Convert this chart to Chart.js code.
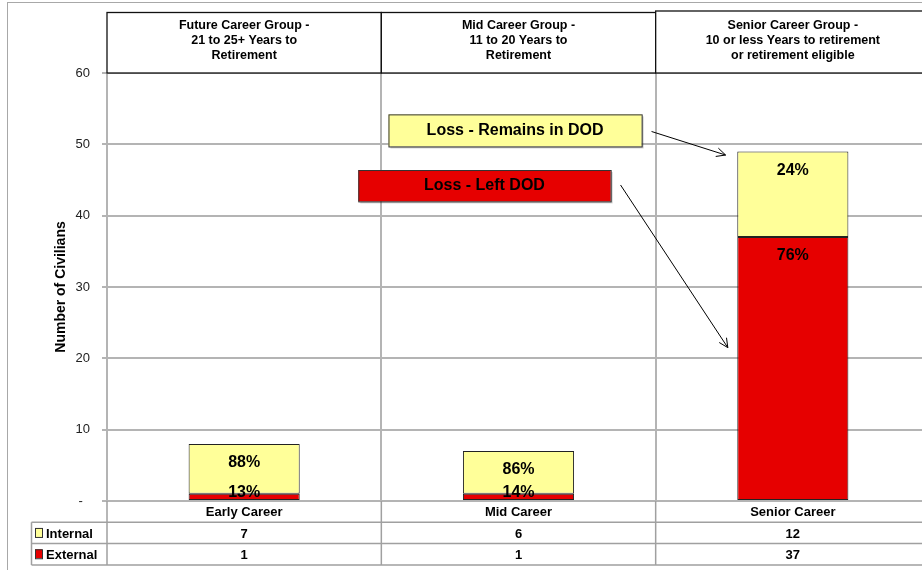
<!DOCTYPE html>
<html>
<head>
<meta charset="utf-8">
<script src="https://cdn.jsdelivr.net/npm/chart.js@4.4.1/dist/chart.umd.min.js"></script>
<style>
  html, body { margin: 0; padding: 0; background: #fff; overflow: hidden; }
  #wrap { width: 922px; height: 570px; position: relative; overflow: hidden; }
</style>
</head>
<body>
<div id="wrap"><canvas id="c" width="930" height="570"></canvas></div>
<script>
// ---- Data ----
const categories = ['Early Career', 'Mid Career', 'Senior Career'];
const internalValues = [7, 6, 12];
const externalValues = [1, 1, 37];
const seriesNames = ['Internal', 'External'];
const groupTitles = [
  ['Future Career Group -', '21 to 25+ Years to', 'Retirement'],
  ['Mid Career Group -', '11 to 20 Years to', 'Retirement'],
  ['Senior Career Group -', '10 or less Years to retirement', 'or retirement eligible']
];
const yTickValues = [0, 10, 20, 30, 40, 50, 60];
const yAxisTitle = 'Number of Civilians';
const calloutTexts = ['Loss - Remains in DOD', 'Loss - Left DOD'];

// ---- Styles ----
const YELLOW = '#FFFF99';
const RED = '#E60000';
const GRID = '#b4b4b4';
const BOLD = "bold 13px 'Liberation Sans Narrow', 'Liberation Sans', Arial, sans-serif";
const BOLD_BIG = "bold 16px 'Liberation Sans', Arial, sans-serif";

function pct(v, i) {
  const t = internalValues[i] + externalValues[i];
  return Math.round(v / t * 100) + '%';
}

const overlay = {
  id: 'overlay',
  beforeDraw(chart) {
    const ctx = chart.ctx;
    ctx.save();
    ctx.strokeStyle = '#a8a8a8';
    ctx.lineWidth = 1;
    ctx.strokeRect(7.5, 2.5, 940, 600);
    ctx.restore();
  },
  afterDatasetsDraw(chart) {
    const ctx = chart.ctx;
    ctx.save();
    ctx.font = BOLD_BIG;
    ctx.fillStyle = '#000';
    ctx.textAlign = 'center';
    ctx.textBaseline = 'middle';
    chart.data.datasets.forEach((ds, di) => {
      const meta = chart.getDatasetMeta(di);
      meta.data.forEach((bar, i) => {
        const top = Math.min(bar.y, bar.base);
        const base = Math.max(bar.y, bar.base);
        const y = Math.min(top + 19, base - 7);
        ctx.fillText(pct(ds.data[i], i), bar.x, y);
      });
    });
    ctx.restore();
  },
  afterDraw(chart) {
    const ctx = chart.ctx;
    const x = chart.scales.x, y = chart.scales.y;
    const area = chart.chartArea;
    const half = (x.getPixelForValue(1) - x.getPixelForValue(0)) / 2;
    const edges = [];
    for (let i = 0; i < categories.length; i++) edges.push(x.getPixelForValue(i) - half);
    edges.push(x.getPixelForValue(categories.length - 1) + half);

    ctx.save();
    // Header boxes
    groupTitles.forEach((lines, i) => {
      const l = edges[i], r = i === categories.length - 1 ? area.right + 20 : edges[i + 1];
      const t = i === categories.length - 1 ? 11 : 12.5;
      ctx.fillStyle = '#fff';
      ctx.fillRect(l, t, r - l, area.top - t);
      ctx.strokeStyle = '#111';
      ctx.lineWidth = 1.3;
      ctx.strokeRect(l, t, r - l, area.top - t);
      ctx.fillStyle = '#000';
      ctx.font = "bold 12.5px 'Liberation Sans Narrow', 'Liberation Sans', Arial, sans-serif";
      ctx.textAlign = 'center';
      ctx.textBaseline = 'middle';
      const cx = x.getPixelForValue(i);
      lines.forEach((s, k) => ctx.fillText(s, cx, 25.5 + k * 15));
    });

    // Data table
    const rowTop = area.bottom, rowH = 21.3;
    const tableLeft = 31.5;
    ctx.strokeStyle = '#a0a0a0';
    ctx.lineWidth = 1.5;
    ctx.beginPath();
    for (let r = 1; r <= 3; r++) {
      const yy = rowTop + r * rowH;
      ctx.moveTo(tableLeft, yy); ctx.lineTo(area.right + 10, yy);
    }
    ctx.moveTo(tableLeft, rowTop + rowH); ctx.lineTo(tableLeft, rowTop + 3 * rowH);
    edges.forEach((e, i) => {
      if (i === edges.length - 1) return;
      ctx.moveTo(e, rowTop); ctx.lineTo(e, rowTop + 3 * rowH);
    });
    ctx.stroke();

    ctx.fillStyle = '#000';
    ctx.font = BOLD;
    ctx.textAlign = 'center';
    ctx.textBaseline = 'middle';
    categories.forEach((c, i) => ctx.fillText(c, x.getPixelForValue(i), rowTop + rowH / 2 + 1));
    const rows = [internalValues, externalValues];
    const cols = [YELLOW, RED];
    rows.forEach((vals, r) => {
      const cy = rowTop + (r + 1.5) * rowH + 1;
      vals.forEach((v, i) => { ctx.fillStyle = '#000'; ctx.fillText(String(v), x.getPixelForValue(i), cy); });
      ctx.fillStyle = cols[r];
      ctx.fillRect(35, cy - 6, 7, 9);
      ctx.strokeStyle = '#333';
      ctx.lineWidth = 1;
      ctx.strokeRect(35.5, cy - 5.5, 7, 9);
      ctx.fillStyle = '#000';
      ctx.textAlign = 'left';
      ctx.fillText(seriesNames[r], 46, cy);
      ctx.textAlign = 'center';
    });

    // Callout boxes (positioned in data space)
    const px = v => x.getPixelForValue(0) + v * (half * 2);
    const boxes = [
      { x0: 0.526, x1: 1.449, y0: 54.2, y1: 49.7, fill: YELLOW, text: calloutTexts[0] },
      { x0: 0.416, x1: 1.336, y0: 46.4, y1: 42.0, fill: RED, text: calloutTexts[1] }
    ];
    boxes.forEach(b => {
      const l = px(b.x0), r = px(b.x1), t = y.getPixelForValue(b.y0), btm = y.getPixelForValue(b.y1);
      ctx.fillStyle = 'rgba(0,0,0,0.18)';
      ctx.fillRect(l + 2, t + 2, r - l, btm - t);
      ctx.fillStyle = b.fill;
      ctx.fillRect(l, t, r - l, btm - t);
      ctx.strokeStyle = '#333';
      ctx.lineWidth = 1;
      ctx.strokeRect(l + 0.5, t + 0.5, r - l, btm - t);
      ctx.fillStyle = '#000';
      ctx.font = BOLD_BIG;
      ctx.textAlign = 'center';
      ctx.textBaseline = 'middle';
      ctx.fillText(b.text, (l + r) / 2, (t + btm) / 2);
    });

    // Arrows
    const arrows = [
      { x0: 1.485, y0: 51.8, x1: 1.755, y1: 48.5 },
      { x0: 1.372, y0: 44.3, x1: 1.763, y1: 21.5 }
    ];
    ctx.strokeStyle = '#000';
    ctx.lineWidth = 1;
    arrows.forEach(a => {
      const sx = px(a.x0), sy = y.getPixelForValue(a.y0), ex = px(a.x1), ey = y.getPixelForValue(a.y1);
      const ang = Math.atan2(ey - sy, ex - sx);
      ctx.beginPath();
      ctx.moveTo(sx, sy); ctx.lineTo(ex, ey);
      const L = 10, w = 0.45;
      ctx.moveTo(ex - L * Math.cos(ang - w), ey - L * Math.sin(ang - w));
      ctx.lineTo(ex, ey);
      ctx.lineTo(ex - L * Math.cos(ang + w), ey - L * Math.sin(ang + w));
      ctx.stroke();
    });
    ctx.restore();
  }
};

new Chart(document.getElementById('c'), {
  type: 'bar',
  data: {
    labels: categories,
    datasets: [
      { label: seriesNames[1], data: externalValues, backgroundColor: RED, borderColor: '#222', borderWidth: 1, borderSkipped: false },
      { label: seriesNames[0], data: internalValues, backgroundColor: YELLOW, borderColor: '#222', borderWidth: 1, borderSkipped: false }
    ]
  },
  options: {
    responsive: false,
    animation: false,
    devicePixelRatio: 1,
    layout: { padding: { top: 73, bottom: 69, left: 50, right: 0 } },
    plugins: { legend: { display: false }, tooltip: { enabled: false } },
    datasets: { bar: { categoryPercentage: 1, barPercentage: 0.405 } },
    scales: {
      x: {
        stacked: true,
        ticks: { display: false },
        grid: { offset: true, color: GRID, lineWidth: 2, drawTicks: false },
        border: { display: false },
        afterFit(s) { s.height = 0; }
      },
      y: {
        stacked: true,
        min: 0, max: 60,
        afterBuildTicks(s) { s.ticks = yTickValues.map(v => ({ value: v })); },
        ticks: {
          padding: 12,
          color: '#222',
          font: { family: "'Liberation Sans', Arial, sans-serif", size: 13 },
          callback: v => (v === 0 ? '-  ' : String(v))
        },
        grid: { color: GRID, lineWidth: 2, tickLength: 5 },
        border: { display: true, color: GRID, width: 2 },
        title: {
          display: true, text: yAxisTitle, color: '#000',
          font: { family: "'Liberation Sans', Arial, sans-serif", size: 14, weight: 'bold' },
          padding: { top: 3, bottom: 0 }
        },
        afterFit(s) { s.width = 57; }
      }
    }
  },
  plugins: [overlay]
});
</script>
</body>
</html>
